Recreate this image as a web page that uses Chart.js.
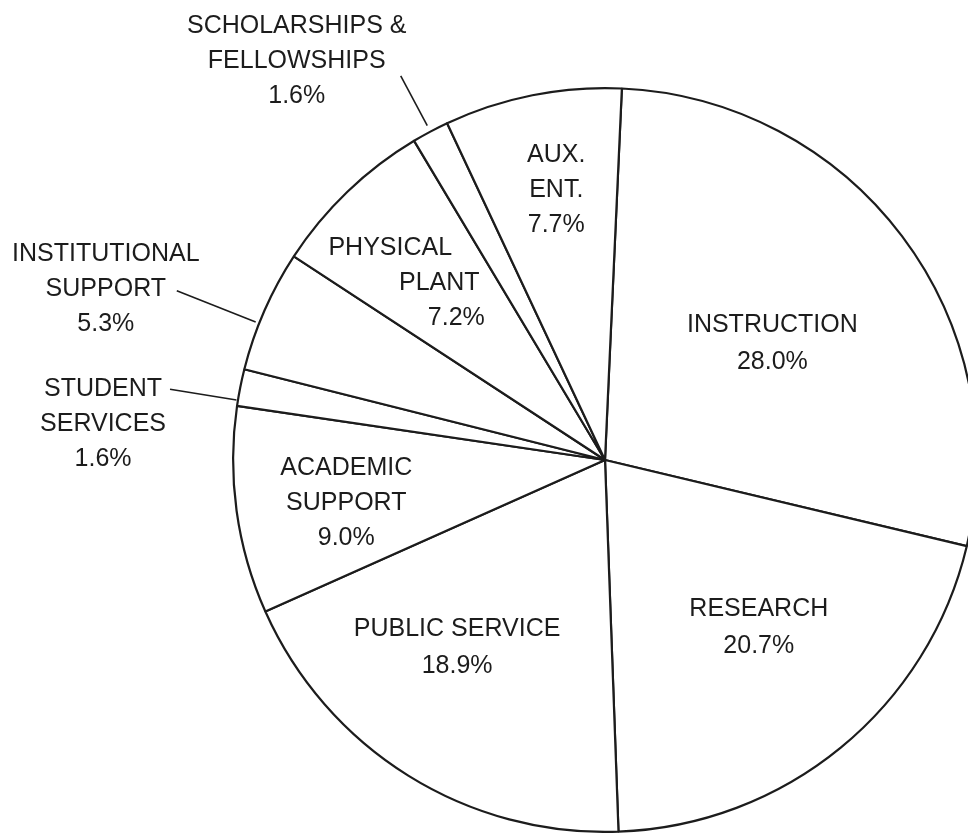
<!DOCTYPE html>
<html>
<head>
<meta charset="utf-8">
<script src="https://cdn.jsdelivr.net/npm/chart.js@4.4.0/dist/chart.umd.min.js"></script>
<style>
html,body{margin:0;padding:0;background:#fff;overflow:hidden;width:968px;height:833px}
canvas{display:block}
</style>
</head>
<body>
<canvas id="pie" width="1000" height="833"></canvas>
<script>
// ── Data ──────────────────────────────────────────────────────────────────────
const CATEGORIES = ["INSTRUCTION","RESEARCH","PUBLIC SERVICE","ACADEMIC SUPPORT","STUDENT SERVICES",
  "INSTITUTIONAL SUPPORT","PHYSICAL PLANT","SCHOLARSHIPS & FELLOWSHIPS","AUX. ENT."];
const LABEL_LINES = [["INSTRUCTION"],["RESEARCH"],["PUBLIC SERVICE"],["ACADEMIC","SUPPORT"],["STUDENT","SERVICES"],
  ["INSTITUTIONAL","SUPPORT"],["PHYSICAL","PLANT"],["SCHOLARSHIPS &","FELLOWSHIPS"],["AUX.","ENT."]];
const SHARES = [28.0,20.7,18.9,9.0,1.6,5.3,7.2,1.6,7.7];

// ── Label placement ───────────────────────────────────────────────────────────
// inside: r = fraction of radius along slice middle, plus nudge
// outside: lead = [inner r, outer r, angle shift deg], text block offset from outer end
const LABEL_POS = [
  {r:0.55, dx:4, dy:6},
  {r:0.61, dx:10, dy:-9},
  {r:0.64, dx:-22, dy:-15},
  {r:0.705, dx:1, dy:6},
  {lead:[1.004,1.185,-2.0], dx:-67, dy:34},
  {lead:[1.01,1.238,-2.1], dx:-71, dy:-3},
  {r:0.655, dx:3, dy:-2, shift:[-49,0,17]},
  {lead:[1.018,1.17,0], dx:-104, dy:-16},
  {r:0.74, dx:5, dy:-1},
];

const INK = "#1c1c1c";
const FONT = '25px "Liberation Sans", Arial, sans-serif';

const pieLabels = {
  id: "pieLabels",
  afterDatasetsDraw(chart) {
    const ctx = chart.ctx;
    const arcs = chart.getDatasetMeta(0).data;
    ctx.save();
    ctx.font = FONT;
    ctx.fillStyle = INK;
    ctx.strokeStyle = INK;
    ctx.lineWidth = 1.6;
    ctx.textAlign = "center";
    ctx.textBaseline = "middle";
    arcs.forEach((arc, i) => {
      const p = LABEL_POS[i];
      const R = arc.outerRadius;
      let mid = (arc.startAngle + arc.endAngle) / 2;
      let cx, cy;
      if (p.lead) {
        const a = mid + p.lead[2] * Math.PI / 180;
        const x0 = arc.x + Math.cos(a) * R * p.lead[0], y0 = arc.y + Math.sin(a) * R * p.lead[0];
        const x1 = arc.x + Math.cos(a) * R * p.lead[1], y1 = arc.y + Math.sin(a) * R * p.lead[1];
        ctx.beginPath(); ctx.moveTo(x0, y0); ctx.lineTo(x1, y1); ctx.stroke();
        cx = x1 + p.dx; cy = y1 + p.dy;
      } else {
        cx = arc.x + Math.cos(mid) * R * p.r + p.dx;
        cy = arc.y + Math.sin(mid) * R * p.r + p.dy;
      }
      const lines = LABEL_LINES[i].concat([SHARES[i].toFixed(1) + "%"]);
      const lh = lines.length === 2 ? 37 : 35;
      lines.forEach((t, k) => {
        const sx = p.shift ? p.shift[k] : 0;
        ctx.fillText(t, cx + sx, cy + (k - (lines.length - 1) / 2) * lh + 1);
      });
    });
    ctx.restore();
  }
};

new Chart(document.getElementById("pie").getContext("2d"), {
  type: "pie",
  data: { labels: CATEGORIES, datasets: [{ data: SHARES, backgroundColor: "#ffffff", borderColor: INK, borderWidth: 2.2, hoverOffset: 0 }] },
  options: {
    responsive: false, animation: false, rotation: 2.6,
    layout: { padding: { left: 210, right: 0, top: 87, bottom: 0 } },
    events: [],
    plugins: { legend: { display: false }, tooltip: { enabled: false } }
  },
  plugins: [pieLabels]
});
</script>
</body>
</html>
